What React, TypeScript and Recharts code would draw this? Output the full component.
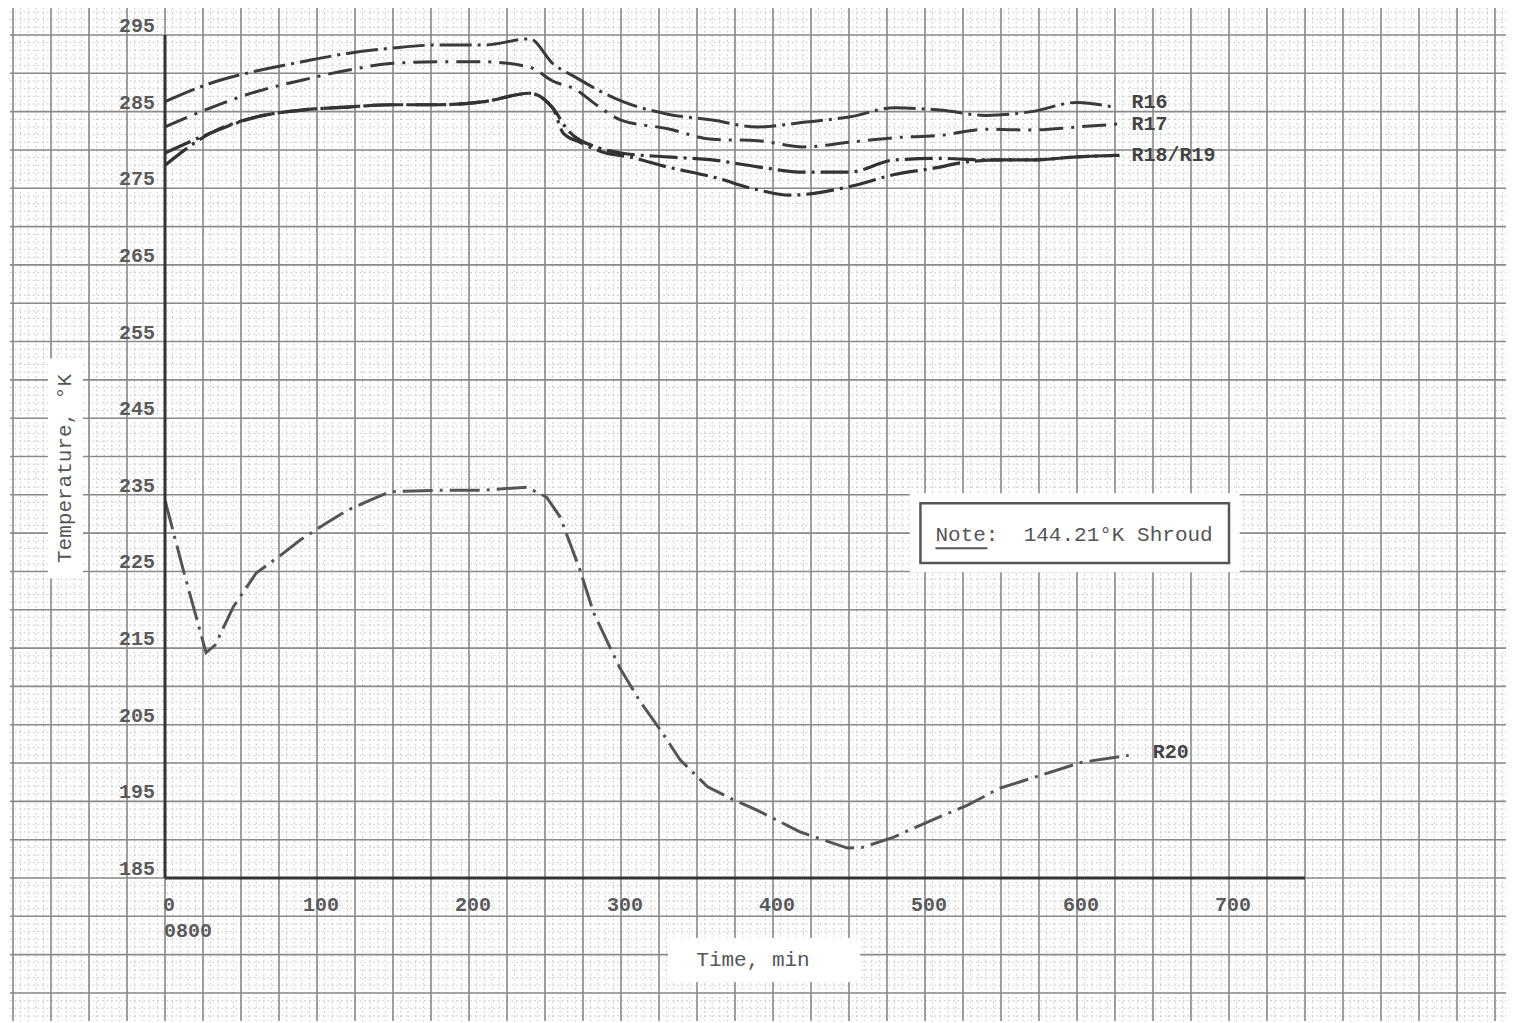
import React from 'react';
import { LineChart, Line, XAxis, YAxis, CartesianGrid, ReferenceArea } from 'recharts';

// time is minutes after 0800, temperatures in °K
const r16Min = [0, 30, 60, 90, 120, 150, 180, 210, 240, 255, 270, 285, 300, 330, 360, 390, 420, 450, 480, 510, 540, 570, 600, 626];
const r16K = [286.3, 288.7, 290.3, 291.5, 292.6, 293.3, 293.7, 293.7, 294.5, 291.3, 289.5, 287.8, 286.4, 284.7, 283.9, 283.0, 283.6, 284.3, 285.5, 285.2, 284.5, 285.0, 286.2, 285.5];

const r17Min = [0, 30, 60, 90, 120, 150, 180, 210, 240, 255, 270, 285, 300, 330, 360, 390, 420, 450, 480, 510, 540, 570, 600, 628];
const r17K = [283.0, 285.5, 287.6, 289.1, 290.4, 291.3, 291.5, 291.5, 290.8, 289.0, 287.9, 285.7, 283.9, 282.8, 281.4, 281.2, 280.4, 281.0, 281.6, 281.9, 282.7, 282.6, 283.0, 283.4];

const r18Min = [0, 30, 60, 90, 120, 150, 180, 210, 240, 255, 265, 285, 300, 330, 360, 390, 420, 450, 480, 510, 540, 570, 600, 628];
const r18K = [279.6, 282.2, 284.3, 285.2, 285.6, 285.9, 285.9, 286.3, 287.4, 285.5, 282.6, 280.3, 279.6, 279.1, 278.7, 277.8, 277.1, 277.1, 278.7, 278.9, 278.7, 278.7, 279.1, 279.3];

const r19Min = [0, 30, 60, 90, 120, 150, 180, 210, 240, 255, 262, 273, 290, 305, 330, 360, 390, 411, 450, 480, 505, 530, 550, 570, 600, 628];
const r19K = [278.0, 282.2, 284.3, 285.2, 285.6, 285.9, 285.9, 286.3, 287.4, 285.5, 282.2, 281.0, 279.6, 279.1, 277.8, 276.5, 274.8, 274.1, 275.2, 276.8, 277.6, 278.5, 278.7, 278.7, 279.1, 279.3];

const r20Min = [0, 12, 27, 33, 45, 60, 76, 89, 106, 120, 135, 148, 180, 209, 238, 251, 260, 273, 282, 299, 312, 326, 339, 357, 374, 389, 418, 449, 459, 479, 505, 528, 549, 576, 603, 634];
const r20K = [234.3, 225.2, 214.4, 215.4, 220.4, 224.8, 227.1, 229.1, 231.3, 233.0, 234.3, 235.4, 235.6, 235.6, 236.0, 234.7, 232.1, 225.2, 219.6, 212.5, 208.2, 204.3, 200.4, 196.9, 195.2, 193.9, 191.0, 188.9, 189.0, 190.3, 192.6, 194.5, 196.7, 198.4, 200.1, 201.0];

const xDomain = [0, 750];
const yDomain = [185, 295];
const xTicks = [0, 100, 200, 300, 400, 500, 600, 700];
const yTicks = [185, 195, 205, 215, 225, 235, 245, 255, 265, 275, 285, 295];

// graph paper rulings (values, run through the axis scales)
const paperMinorX = Array.from({ length: 200 }, (_, i) => -105 + i * 5);
const paperMajorX = Array.from({ length: 40 }, (_, i) => -100 + i * 25);
const paperMinorY = Array.from({ length: 135 }, (_, i) => 165 + i);
const paperMajorY = Array.from({ length: 28 }, (_, i) => 165 + i * 5);

const zip = (t: number[], v: number[]) => t.map((m, i) => ({ t: m, k: v[i] }));

const FONT = '"Liberation Mono", "DejaVu Sans Mono", monospace';
const W = 1513;
const H = 1023;
const MARGIN = { top: 35, right: 208, bottom: 85, left: 105 };
const Y_W = 60;
const X_H = 60;

// use the axis scale when the grid hands it over, else the same linear map from the plot offset
const gridX = (vals: number[]) => (props: any) => {
  const s = props?.xAxis?.scale;
  const off = props?.offset ?? { left: MARGIN.left + Y_W, width: W - MARGIN.left - Y_W - MARGIN.right };
  const f = typeof s === 'function'
    ? (v: number) => s(v)
    : (v: number) => off.left + ((v - xDomain[0]) / (xDomain[1] - xDomain[0])) * off.width;
  return vals.map(f).filter((p) => p >= 10 && p <= 1506);
};
const gridY = (vals: number[]) => (props: any) => {
  const s = props?.yAxis?.scale;
  const off = props?.offset ?? { top: MARGIN.top, height: H - MARGIN.top - MARGIN.bottom - X_H };
  const f = typeof s === 'function'
    ? (v: number) => s(v)
    : (v: number) => off.top + (1 - (v - yDomain[0]) / (yDomain[1] - yDomain[0])) * off.height;
  return vals.map(f).filter((p) => p >= 8 && p <= 1021);
};

const endLabel = (text: string, n: number, dx: number, dy: number) => (p: any) =>
  p.index === n - 1 ? (
    <text x={p.x + dx} y={p.y + dy} fontFamily={FONT} fontSize={20} fontWeight="bold" fill="#444"
      dominantBaseline="central">
      {text}
    </text>
  ) : null;

const tickFont = { fontFamily: FONT, fontSize: 20, fontWeight: 'bold' as const, fill: '#5a5a5a' };

const XTick = ({ x, y, payload }: any) => {
  if (payload.value === 0) {
    return (
      <g {...tickFont}>
        <text x={x - 2} y={y + 25}>0</text>
        <text x={x - 1} y={y + 51}>0800</text>
      </g>
    );
  }
  return (
    <text x={x + 4} y={y + 25} textAnchor="middle" {...tickFont}>
      {payload.value}
    </text>
  );
};

const YTick = ({ x, y, payload }: any) => (
  <text x={x - 2} y={y - 3} textAnchor="end" {...tickFont}>
    {payload.value}
  </text>
);

const YTitle = ({ viewBox }: any) => {
  const cx = viewBox.x - 40;
  const cy = viewBox.y + viewBox.height / 2 + 12;
  return (
    <g>
      <rect x={cx - 17} y={cy - 110} width={35} height={220} fill="#fff" />
      <text x={cx} y={cy} transform={`rotate(-90 ${cx} ${cy})`} textAnchor="middle" dominantBaseline="central"
        fontFamily={FONT} fontSize={21} fill="#555">
        Temperature, °K
      </text>
    </g>
  );
};

const XTitle = ({ viewBox }: any) => {
  const cx = viewBox.x + viewBox.width / 2 + 18;
  const cy = viewBox.y + 82;
  return (
    <g>
      <rect x={cx - 85} y={cy - 22} width={192} height={44} fill="#fff" />
      <text x={cx} y={cy} textAnchor="middle" dominantBaseline="central" fontFamily={FONT} fontSize={21} fill="#555">
        Time, min
      </text>
    </g>
  );
};

const NoteLabel = ({ viewBox }: any) => {
  const x = viewBox.x + 15;
  const cy = viewBox.y + viewBox.height / 2 + 2;
  return (
    <g fontFamily={FONT} fontSize={21} fill="#555">
      <text x={x} y={cy} dominantBaseline="central" style={{ whiteSpace: 'pre' }}>Note:  144.21°K Shroud</text>
      <line x1={x} x2={x + 52} y1={cy + 13} y2={cy + 13} stroke="#555" strokeWidth={2} />
    </g>
  );
};

const App: React.FC = () => (
  <div style={{ position: 'absolute', left: 0, top: 0, width: W, height: H, background: '#fff' }}>
    <LineChart width={W} height={H} margin={MARGIN}>
      <CartesianGrid x={10} y={8} width={1496} height={1013} stroke="#c2c2c2" strokeDasharray="1.6 3"
        verticalCoordinatesGenerator={gridX(paperMinorX)} horizontalCoordinatesGenerator={gridY(paperMinorY)} />
      <CartesianGrid x={10} y={8} width={1496} height={1013} stroke="#8a8a8a" strokeWidth={1.6}
        verticalCoordinatesGenerator={gridX(paperMajorX)} horizontalCoordinatesGenerator={gridY(paperMajorY)} />
      <XAxis dataKey="t" type="number" domain={xDomain} ticks={xTicks} height={X_H} tickLine={false}
        axisLine={{ stroke: '#333', strokeWidth: 3 }} tick={<XTick />} allowDataOverflow
        label={{ content: XTitle }} />
      <YAxis dataKey="k" type="number" domain={yDomain} ticks={yTicks} width={Y_W} tickLine={false}
        axisLine={{ stroke: '#333', strokeWidth: 3 }} tick={<YTick />} allowDataOverflow
        label={{ content: YTitle }} />
      <ReferenceArea x1={490} x2={707} y1={224.9} y2={235.2} fill="#fff" fillOpacity={1} stroke="none" />
      <ReferenceArea x1={497} x2={700} y1={226.1} y2={233.9} fill="#fff" fillOpacity={1} stroke="#555" strokeWidth={2.5}
        label={{ content: NoteLabel }} />
      <Line data={zip(r16Min, r16K)} dataKey="k" type="monotone" stroke="#3a3a3a" strokeWidth={3}
        strokeDasharray="32 6 3 6" dot={false} isAnimationActive={false}
        label={endLabel('R16', r16Min.length, 15, -5)} />
      <Line data={zip(r17Min, r17K)} dataKey="k" type="monotone" stroke="#3a3a3a" strokeWidth={3}
        strokeDasharray="24 8 3 8" dot={false} isAnimationActive={false}
        label={endLabel('R17', r17Min.length, 12, 1)} />
      <Line data={zip(r19Min, r19K)} dataKey="k" type="monotone" stroke="#333" strokeWidth={3.2}
        strokeDasharray="28 6 3 6" dot={false} isAnimationActive={false} />
      <Line data={zip(r18Min, r18K)} dataKey="k" type="monotone" stroke="#333" strokeWidth={3.2}
        strokeDasharray="28 6 3 6" dot={false} isAnimationActive={false}
        label={endLabel('R18/R19', r18Min.length, 12, 0)} />
      <Line data={zip(r20Min, r20K)} dataKey="k" type="linear" stroke="#555" strokeWidth={3}
        strokeDasharray="30 7 3 7" dot={false} isAnimationActive={false}
        label={endLabel('R20', r20Min.length, 24, -3)} />
    </LineChart>
  </div>
);

export default App;
